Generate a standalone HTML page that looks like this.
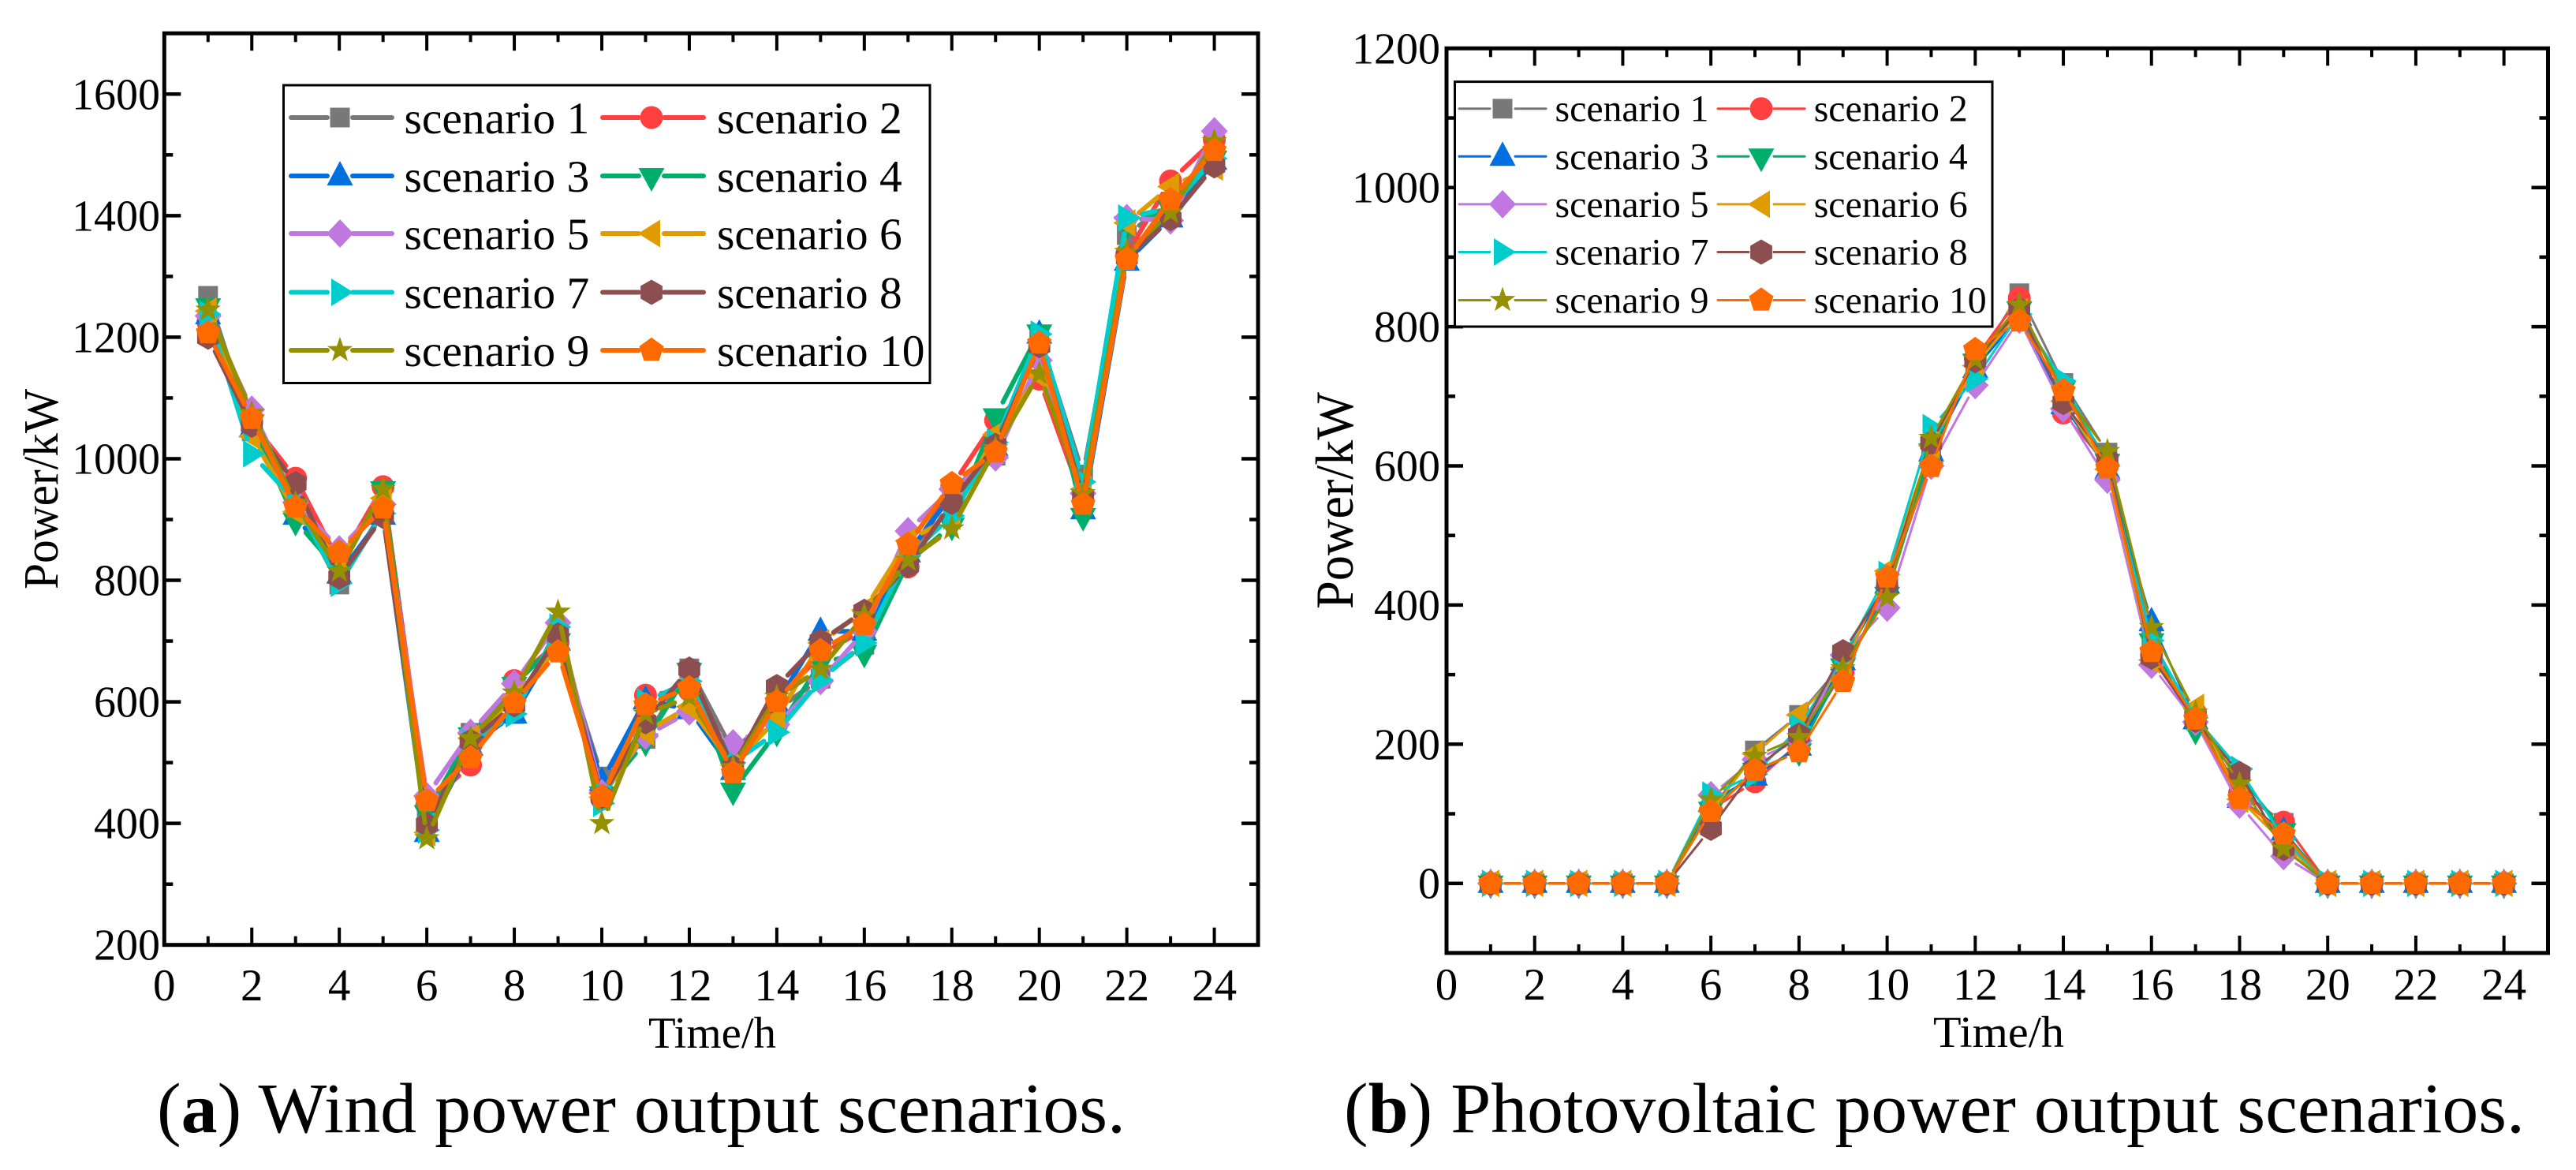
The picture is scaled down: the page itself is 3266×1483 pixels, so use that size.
<!DOCTYPE html>
<html lang="en">
<head>
<meta charset="utf-8">
<title>Wind and photovoltaic power output scenarios</title>
<style>
html,body{margin:0;padding:0;background:#fff;}
svg{display:block;}
text{font-family:"Liberation Serif",serif;fill:#000;}
</style>
</head>
<body>
<svg id="figure" xmlns="http://www.w3.org/2000/svg" width="3266" height="1483" viewBox="0 0 3266 1483">
  <rect x="0" y="0" width="3266" height="1483" fill="#fff"/>
  <g id="chartA"></g>
  <g id="chartB"></g>
  <text transform="translate(73,747) rotate(-90)" font-size="62" textLength="254" lengthAdjust="spacingAndGlyphs">Power/kW</text>
  <text x="822" y="1328" font-size="56" textLength="162" lengthAdjust="spacingAndGlyphs">Time/h</text>
  <text transform="translate(1715,772) rotate(-90)" font-size="68" textLength="275" lengthAdjust="spacingAndGlyphs">Power/kW</text>
  <text x="2451" y="1327" font-size="56" textLength="166" lengthAdjust="spacingAndGlyphs">Time/h</text>
  <text x="199" y="1435" font-size="90" textLength="1228" lengthAdjust="spacingAndGlyphs">(<tspan font-weight="bold">a</tspan>) Wind power output scenarios.</text>
  <text x="1704" y="1435" font-size="90" textLength="1497" lengthAdjust="spacingAndGlyphs">(<tspan font-weight="bold">b</tspan>) Photovoltaic power output scenarios.</text>
</svg>
<script>
const hours = [1,2,3,4,5,6,7,8,9,10,11,12,13,14,15,16,17,18,19,20,21,22,23,24];
const scenarioNames = ['scenario 1','scenario 2','scenario 3','scenario 4','scenario 5','scenario 6','scenario 7','scenario 8','scenario 9','scenario 10'];
const xTickValues = [0,2,4,6,8,10,12,14,16,18,20,22,24];
const xMinorTickValues = [1,3,5,7,9,11,13,15,17,19,21,23];
const windYTicks = [200,400,600,800,1000,1200,1400,1600];
const windYMinorTicks = [300,500,700,900,1100,1300,1500];
const pvYTicks = [0,200,400,600,800,1000,1200];
const pvYMinorTicks = [100,300,500,700,900,1100];

const windScenario1 = [1268,1045,930,793,915,410,549,580,705,477,539,655,518,587,638,694,840,950,1005,1200,974,1368,1423,1500];
const windScenario2 = [1225,1060,968,830,954,430,496,635,698,440,611,619,485,602,677,720,822,955,1063,1131,931,1337,1457,1525];
const windScenario3 = [1237,1051,907,810,907,385,527,580,700,469,603,587,487,597,716,716,845,940,1020,1205,916,1325,1396,1491];
const windScenario4 = [1251,1060,898,815,950,417,545,628,700,448,535,651,454,551,664,681,830,890,1070,1208,906,1386,1411,1494];
const windScenario5 = [1235,1081,928,851,925,445,549,630,730,450,544,584,532,563,634,716,881,950,1002,1162,943,1396,1392,1539];
const windScenario6 = [1243,1037,913,835,935,385,540,607,690,443,550,592,496,572,697,751,865,905,1040,1137,950,1388,1448,1480];
const windScenario7 = [1238,1008,930,795,910,389,533,580,723,433,600,634,500,550,636,697,840,906,1027,1205,962,1396,1414,1494];
const windScenario8 = [1200,1055,959,805,905,398,535,595,710,444,567,654,492,625,700,749,824,928,1022,1186,937,1331,1395,1482];
const windScenario9 = [1245,1075,927,815,950,375,540,615,748,400,580,608,492,608,654,742,833,885,1017,1140,943,1340,1405,1522];
const windScenario10 = [1207,1066,920,846,919,437,508,598,682,444,595,623,483,600,684,727,859,959,1011,1190,925,1328,1426,1507];

const pvScenario1 = [0,0,0,0,0,105,191,242,317,435,631,745,848,719,619,351,235,135,87,0,0,0,0,0];
const pvScenario2 = [0,0,0,0,0,106,146,202,304,425,608,755,841,676,600,328,245,130,88,0,0,0,0,0];
const pvScenario3 = [0,0,0,0,0,117,154,197,320,430,620,740,815,688,595,376,235,122,75,0,0,0,0,0];
const pvScenario4 = [0,0,0,0,0,106,162,190,312,415,621,750,825,711,606,348,221,155,75,0,0,0,0,0];
const pvScenario5 = [0,0,0,0,0,127,178,205,328,396,600,716,810,682,580,314,232,113,39,0,0,0,0,0];
const pvScenario6 = [0,0,0,0,0,103,186,242,310,449,629,744,822,693,595,321,253,121,58,0,0,0,0,0];
const pvScenario7 = [0,0,0,0,0,127,157,224,325,444,655,725,818,722,600,349,238,164,64,0,0,0,0,0];
const pvScenario8 = [0,0,0,0,0,79,165,213,333,430,633,751,825,691,608,325,234,158,50,0,0,0,0,0];
const pvScenario9 = [0,0,0,0,0,120,183,210,309,411,640,753,831,706,621,368,245,143,50,0,0,0,0,0];
const pvScenario10 = [0,0,0,0,0,103,162,189,290,440,599,767,808,708,597,333,236,122,71,0,0,0,0,0];

const windSeries = [windScenario1,windScenario2,windScenario3,windScenario4,windScenario5,windScenario6,windScenario7,windScenario8,windScenario9,windScenario10];
const pvSeries = [pvScenario1,pvScenario2,pvScenario3,pvScenario4,pvScenario5,pvScenario6,pvScenario7,pvScenario8,pvScenario9,pvScenario10];

const seriesColors = ['#787878','#FF4040','#0070E0','#00AE6B','#C078E0','#E09B00','#00CCCC','#8C4E4E','#949000','#FF6A00'];
const markerKinds = ['square','circle','up','down','diamond','left','right','hexagon','star','pentagon'];

const SVGNS = 'http://www.w3.org/2000/svg';

function make(parent, tag, attrs) {
  const el = document.createElementNS(SVGNS, tag);
  for (const k in attrs) el.setAttribute(k, attrs[k]);
  parent.appendChild(el);
  return el;
}

function regularPoints(n, r, startDeg) {
  const pts = [];
  for (let i = 0; i < n; i++) {
    const a = (startDeg + i * 360 / n) * Math.PI / 180;
    pts.push([r * Math.cos(a), r * Math.sin(a)]);
  }
  return pts;
}

function starPoints(R, r) {
  const pts = [];
  for (let i = 0; i < 10; i++) {
    const rad = i % 2 ? r : R;
    const a = (-90 + i * 36) * Math.PI / 180;
    pts.push([rad * Math.cos(a), rad * Math.sin(a)]);
  }
  return pts;
}

function markerShape(kind) {
  switch (kind) {
    case 'square': return [[-12.5,-12.5],[12.5,-12.5],[12.5,12.5],[-12.5,12.5]];
    case 'up': return [[0,-19],[16.5,12],[-16.5,12]];
    case 'down': return [[0,20],[16.5,-10],[-16.5,-10]];
    case 'diamond': return [[0,-18],[17,0],[0,18],[-17,0]];
    case 'left': return [[-17,0],[11,-17.5],[11,17.5]];
    case 'right': return [[17,0],[-11,-17.5],[-11,17.5]];
    case 'hexagon': return regularPoints(6, 16, -90);
    case 'star': return starPoints(17, 6.8);
    case 'pentagon': return regularPoints(5, 16.3, -90);
  }
  return [];
}

function drawMarker(parent, kind, cx, cy, color) {
  if (kind === 'circle') {
    const c = make(parent, 'circle', {cx: cx, cy: cy, r: 14.5, fill: color});
    
    
    return;
  }
  const pts = markerShape(kind).map(p => (cx + p[0]).toFixed(1) + ',' + (cy + p[1]).toFixed(1)).join(' ');
  const m = make(parent, 'polygon', {points: pts, fill: color});
  
  
}

function drawChart(rootId, cfg, series) {
  const root = document.getElementById(rootId);
  const xPos = v => cfg.x0 + v * cfg.xUnit;
  const yPos = v => cfg.yBase - (v - cfg.yBaseValue) * cfg.yUnit;
  const left = xPos(0), right = xPos(25), top = yPos(cfg.yMax), bottom = yPos(cfg.yMin);

  const marks = make(root, 'g', {});
  
  

  series.forEach((values, s) => {
    const g = make(marks, 'g', {});
    
    
    for (let i = 0; i < values.length - 1; i++) {
      const ax = xPos(hours[i]), ay = yPos(values[i]);
      const bx = xPos(hours[i + 1]), by = yPos(values[i + 1]);
      const len = Math.hypot(bx - ax, by - ay);
      if (len <= 2 * cfg.gap) continue;
      const ux = (bx - ax) / len, uy = (by - ay) / len;
      const seg = make(g, 'line', {
        x1: (ax + ux * cfg.gap).toFixed(1), y1: (ay + uy * cfg.gap).toFixed(1),
        x2: (bx - ux * cfg.gap).toFixed(1), y2: (by - uy * cfg.gap).toFixed(1),
        stroke: seriesColors[s], 'stroke-width': cfg.lineWidth, 'stroke-linecap': 'round'
      });
      
      
    }
    values.forEach((v, i) => drawMarker(g, markerKinds[s], xPos(hours[i]), yPos(v), seriesColors[s]));
  });

  const axes = make(root, 'g', {stroke: '#000', 'stroke-width': 4.5, fill: 'none'});
  
  
  const frame = make(axes, 'rect', {x: left, y: top, width: right - left, height: bottom - top, 'stroke-width': 5});
  
  

  function xTick(v, len) {
    const x = xPos(v);
    const a = make(axes, 'line', {x1: x, x2: x, y1: bottom, y2: bottom - len, 'stroke-width': 4});
    
    
    const b = make(axes, 'line', {x1: x, x2: x, y1: top, y2: top + len, 'stroke-width': 4});
    
    
  }
  function yTick(v, len) {
    const y = yPos(v);
    const a = make(axes, 'line', {x1: left, x2: left + len, y1: y, y2: y});
    
    
    const b = make(axes, 'line', {x1: right, x2: right - len, y1: y, y2: y});
    
    
  }
  xTickValues.forEach(v => { if (v > 0) xTick(v, 22); });
  xMinorTickValues.forEach(v => xTick(v, 11));
  cfg.yTicks.forEach(v => yTick(v, 21));
  cfg.yMinor.forEach(v => yTick(v, 11));

  xTickValues.forEach(v => {
    const t = make(root, 'text', {x: xPos(v), y: cfg.xLabelBaseline, 'font-size': 57, 'text-anchor': 'middle'});
    
    
    t.textContent = String(v);
  });
  cfg.yTicks.forEach(v => {
    const t = make(root, 'text', {x: cfg.yLabelRight, y: yPos(v) + 19, 'font-size': 56, 'text-anchor': 'end'});
    
    
    t.textContent = String(v);
  });

  const L = cfg.legend;
  const legend = make(root, 'g', {});
  
  
  const box = make(legend, 'rect', {x: L.x, y: L.y, width: L.w, height: L.h, fill: '#fff', stroke: '#000', 'stroke-width': 3});
  
  
  scenarioNames.forEach((name, s) => {
    const row = Math.floor(s / 2), col = s % 2;
    const y = L.rows[row];
    const cx = L.markerX[col];
    const entry = make(legend, 'g', {});
    
    
    [[L.lineX[col][0], cx - 16], [cx + 16, L.lineX[col][1]]].forEach(p => {
      const ln = make(entry, 'line', {x1: p[0], x2: p[1], y1: y, y2: y, stroke: seriesColors[s], 'stroke-width': cfg.lineWidth, 'stroke-linecap': 'round'});
      
      
    });
    drawMarker(entry, markerKinds[s], cx, y, seriesColors[s]);
    const t = make(entry, 'text', {x: L.textX[col], y: y + L.baseOffset, 'font-size': L.fontSize});
    
    
    t.textContent = name;
  });
}

drawChart('chartA', {
  x0: 208.3, xUnit: 55.47,
  yBase: 1197.7, yBaseValue: 200, yUnit: 0.7703, yMin: 200, yMax: 1700,
  yTicks: windYTicks, yMinor: windYMinorTicks,
  gap: 20, lineWidth: 6,
  xLabelBaseline: 1268, yLabelRight: 203,
  legend: {x: 359.5, y: 108, w: 819.5, h: 377.5,
    rows: [149, 223, 296, 370.5, 444],
    markerX: [431, 826], lineX: [[369, 497], [764, 892]], textX: [512.5, 909],
    baseOffset: 20, fontSize: 57.5}
}, windSeries);

drawChart('chartB', {
  x0: 1834, xUnit: 55.86,
  yBase: 1119.7, yBaseValue: 0, yUnit: 0.882, yMin: -100, yMax: 1200,
  yTicks: pvYTicks, yMinor: pvYMinorTicks,
  gap: 18, lineWidth: 3,
  xLabelBaseline: 1267, yLabelRight: 1826,
  legend: {x: 1844.5, y: 103.6, w: 681.5, h: 310.4,
    rows: [137.7, 198.3, 258.9, 319.5, 380.5],
    markerX: [1905, 2233], lineX: [[1850, 1960], [2178, 2288]], textX: [1971.5, 2299.7],
    baseOffset: 16, fontSize: 47.8}
}, pvSeries);
</script>
</body>
</html>
